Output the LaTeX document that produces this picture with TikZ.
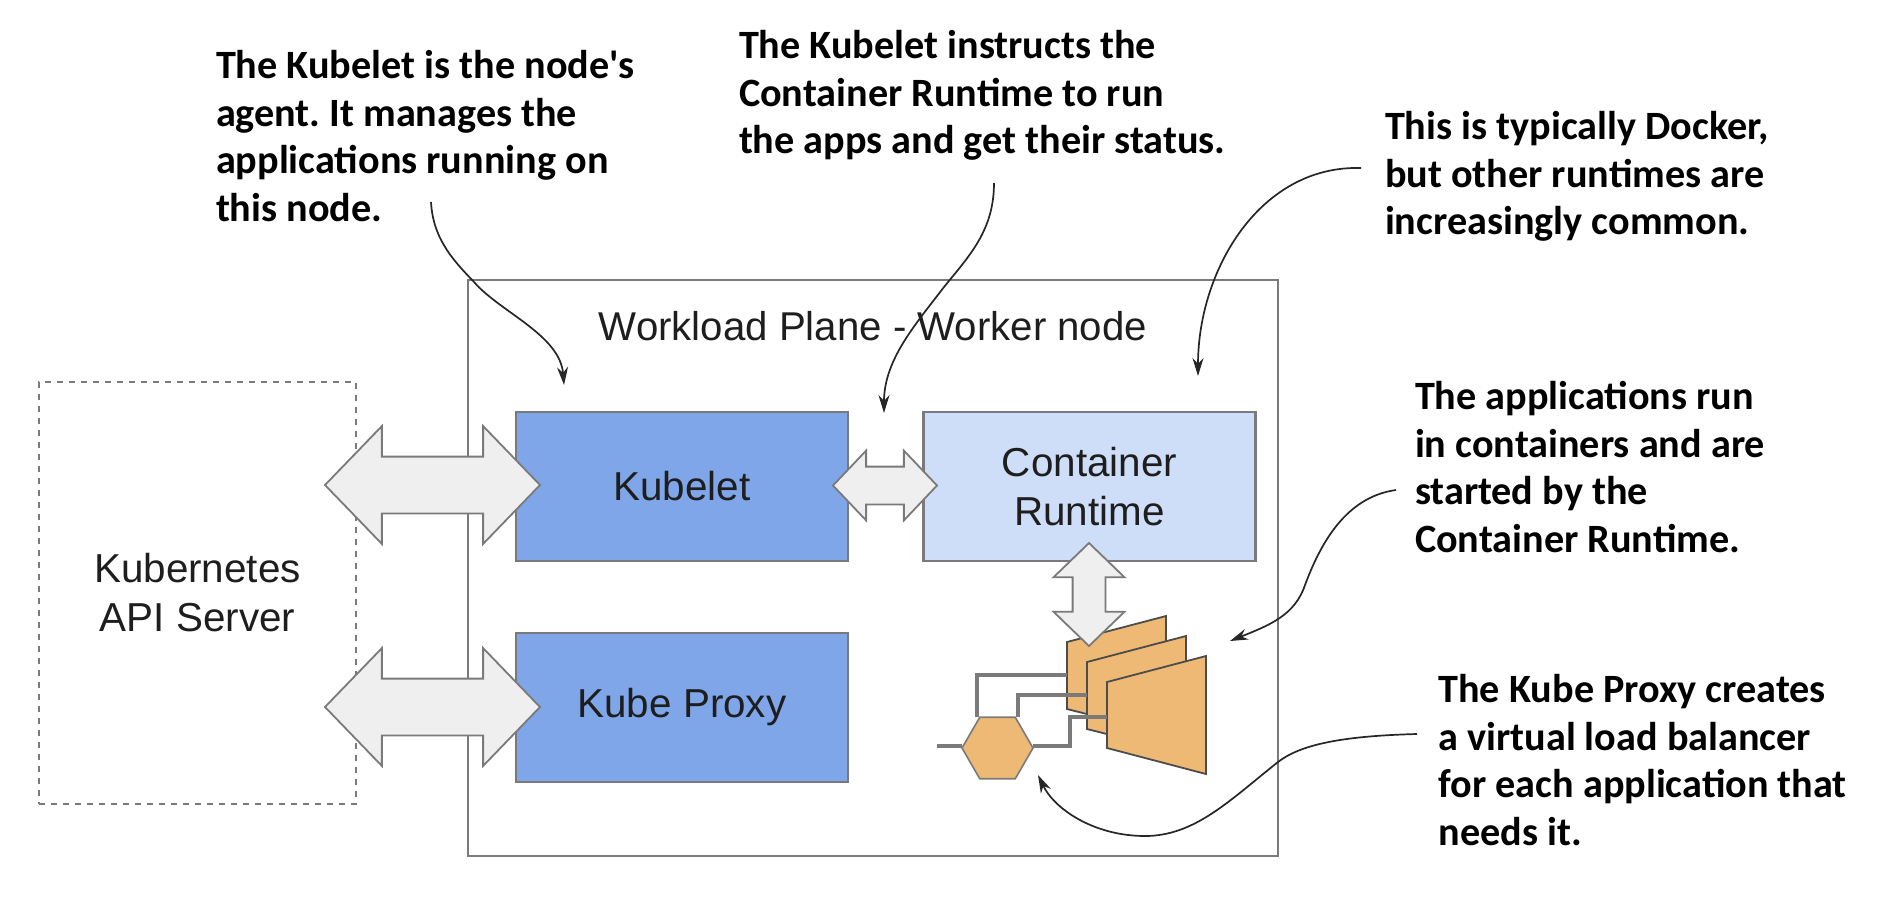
\documentclass[tikz,border=0pt]{standalone}
\usepackage{fontspec}
\setmainfont{Liberation Sans}
\newfontfamily\annofont{Carlito}[BoldFont=* Bold]
\usetikzlibrary{shapes.arrows,shapes.geometric,arrows.meta}
\definecolor{boxblue}{HTML}{7FA6E8}
\definecolor{boxlight}{HTML}{CFDEF8}
\definecolor{arrowgrey}{HTML}{EFEFEF}
\definecolor{edgegrey}{HTML}{7A7A7A}
\definecolor{appfill}{HTML}{EEB975}
\definecolor{labeltext}{HTML}{1E1E1E}
\frenchspacing
\tikzset{
  plainbox/.style={draw=edgegrey,line width=1.2pt,inner sep=0pt,align=center,font=\fontsize{20.2}{24.5}\selectfont,text=labeltext},
  mainbox/.style={plainbox,fill=boxblue,minimum width=166pt,minimum height=74.5pt},
  lightbox/.style={plainbox,fill=boxlight,minimum width=166pt,minimum height=74.5pt},
  anno/.style={anchor=north west,inner sep=0pt,outer sep=0pt,align=left,text=black,font=\annofont\bfseries\fontsize{20.1}{23.75}\selectfont},
  note/.style={draw=black!85,line width=0.85pt,-{Stealth[length=9pt,width=5.5pt]}},
  apptrap/.style={draw=black!70,line width=0.9pt,fill=appfill},
  wire/.style={draw=edgegrey,line width=1.7pt},
  dbl/.style={shape=double arrow,draw=edgegrey,line width=0.9pt,fill=arrowgrey,inner sep=0pt},
}
\begin{document}
\begin{tikzpicture}[x=0.5pt,y=-0.5pt]
\useasboundingbox (0,0) rectangle (1892,896);
% frames
\node[draw=edgegrey,line width=1pt,inner sep=0pt,minimum width=405pt,minimum height=288pt] (plane) at (873,568) {};
\node[draw=edgegrey,dashed,line width=0.75pt,inner sep=0pt,minimum width=158.5pt,minimum height=211pt,align=center,font=\fontsize{20.2}{24.5}\selectfont,text=labeltext] (api) at (197.5,593) {\raisebox{-0.5pt}{Kubernetes}\\\raisebox{-0.5pt}{API Server}};
\node[text=labeltext,font=\fontsize{20.1}{24}\selectfont,inner sep=0pt] (title) at (873,326) {Workload Plane - Worker node};
% boxes
\node[mainbox] (kubelet) at (682,486.5) {\raisebox{-0.5pt}{Kubelet}};
\node[mainbox] (proxy) at (682,707.5) {\raisebox{-1pt}{Kube Proxy}};
\node[lightbox] (runtime) at (1089.5,486.5) {Container\\Runtime};
% apps
\draw[apptrap] (1067,642) coordinate (appa) -- (1166,616) -- (1166,734) -- (1067,709) -- cycle;
\draw[wire] (977,717) -- (977,675) -- (1067,675);
\draw[apptrap] (1087,662) coordinate (appb) -- (1186,636) -- (1186,754) -- (1087,729) -- cycle;
\draw[wire] (1018,717) -- (1018,695) -- (1087,695);
\draw[apptrap] (1107,682) coordinate (appc) -- (1206,656) -- (1206,774) -- (1107,748) -- cycle;
\draw[wire] (937,746) -- (962,746);
\draw[wire] (1033,746) -- (1070,746) -- (1070,717) -- (1107,717);
\node[shape=regular polygon,regular polygon sides=6,shape border rotate=0,draw=edgegrey,line width=0.8pt,fill=appfill,inner sep=0pt,minimum size=35.5pt] (lb) at (997.5,748) {};
% double arrows
\node[dbl,minimum height=107.5pt,inner ysep=13.75pt,double arrow head extend=15.25pt,double arrow tip angle=92] (arrowa) at (432.5,485) {};
\node[dbl,minimum height=107.5pt,inner ysep=13.75pt,double arrow head extend=15.25pt,double arrow tip angle=92] (arrowb) at (432.5,707) {};
\node[dbl,minimum height=52pt,inner ysep=9pt,double arrow head extend=8pt,double arrow tip angle=93] (arrowc) at (885,485.5) {};
\node[dbl,minimum height=51.5pt,inner ysep=7.75pt,double arrow head extend=9.5pt,double arrow tip angle=92,rotate=90] (arrowd) at (1089,594.5) {};
% annotations
\node[anno] (notea) at (216,45.25) {\strut The Kubelet is the node's\\agent. It manages the\\applications running on\\this node.};
\node[anno] (noteb) at (739,25.25) {\strut The Kubelet instructs the\\Container Runtime to run\\the apps and get their status.};
\node[anno] (notec) at (1385,106.5) {\strut This is typically Docker,\\but other runtimes are\\increasingly common.};
\node[anno] (noted) at (1415,376.25) {\strut The applications run\\in containers and are\\started by the\\Container Runtime.};
\node[anno] (notee) at (1438.5,669.25) {\strut The Kube Proxy creates\\a virtual load balancer\\for each application that\\needs it.};
% curved pointers
\coordinate (ta) at (564,385);
\coordinate (tb) at (884,413);
\coordinate (tc) at (1198,376);
\coordinate (td) at (1230,641);
\coordinate (te) at (1038,775);
\coordinate (sa) at (431,202);
\coordinate (sb) at (994,183);
\coordinate (sc) at (1361,168);
\coordinate (sd) at (1396,490);
\coordinate (se) at (1417,734);
\draw[note] (sa) .. controls (433,240) and (455,262) .. (474,282) .. controls (500,312) and (560,335) .. (ta);
\draw[note] (sb) .. controls (994,230) and (970,255) .. (944,287) .. controls (915,325) and (884,360) .. (tb);
\draw[note] (sc) .. controls (1260,165) and (1198,270) .. (tc);
\draw[note] (sd) .. controls (1345,497) and (1320,545) .. (1305,585) .. controls (1295,615) and (1270,625) .. (td);
\draw[note] (se) .. controls (1340,736) and (1300,745) .. (1278,762) .. controls (1230,800) and (1195,836) .. (1145,836) .. controls (1095,836) and (1055,810) .. (te);
\end{tikzpicture}
\end{document}
